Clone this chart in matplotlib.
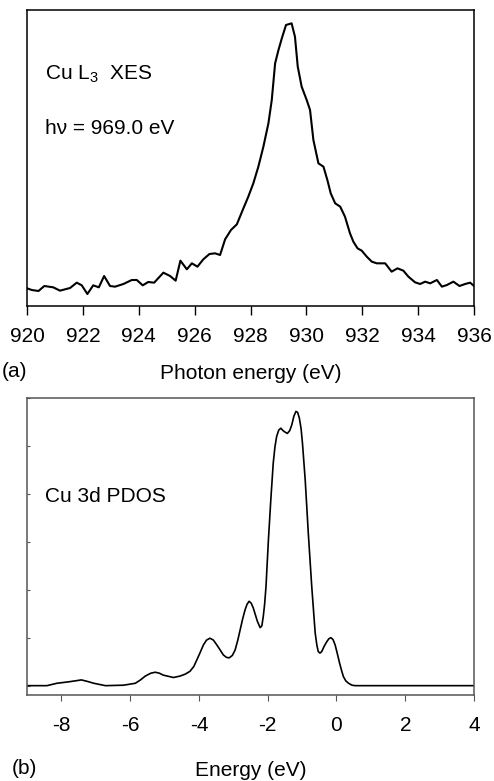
import numpy as np
import matplotlib
matplotlib.use("Agg")
import matplotlib.pyplot as plt

plt.rcParams['font.family'] = ['Liberation Sans', 'DejaVu Sans']
plt.rcParams['mathtext.fontset'] = 'custom'
plt.rcParams['mathtext.rm'] = 'Liberation Sans'
plt.rcParams['mathtext.it'] = 'Liberation Sans:italic'
plt.rcParams['axes.unicode_minus'] = False

# (a) Cu L3 XES, photon energy (eV) vs intensity (arb. units)
xes_energy = [920.00, 920.17, 920.41, 920.62, 920.94, 921.18, 921.54, 921.78, 921.96, 922.16,
              922.37, 922.57, 922.76, 922.97, 923.15, 923.45, 923.75, 923.93, 924.14, 924.34,
              924.55, 924.88, 925.12, 925.32, 925.49, 925.72, 925.90, 926.10, 926.31, 926.53,
              926.73, 926.91, 927.09, 927.30, 927.51, 927.72, 927.92, 928.10, 928.28, 928.46,
              928.64, 928.76, 928.88, 929.00, 929.12, 929.27, 929.47, 929.59, 929.69, 929.83,
              930.01, 930.13, 930.25, 930.43, 930.61, 930.75, 930.87, 931.03, 931.21, 931.38,
              931.56, 931.68, 931.83, 931.98, 932.16, 932.34, 932.52, 932.82, 933.05, 933.26,
              933.47, 933.65, 933.89, 934.07, 934.25, 934.43, 934.67, 934.85, 935.03, 935.26,
              935.48, 935.68, 935.86, 936.00]
xes_int = [53, 48, 45, 60, 56, 46, 54, 70, 62, 36,
           62, 56, 90, 60, 58, 66, 78, 78, 62, 72,
           70, 100, 90, 76, 136, 110, 128, 118, 140, 156,
           158, 153, 200, 228, 245, 288, 328, 368, 418, 478,
           548, 618, 728, 768, 803, 843, 848, 808, 718, 658,
           618, 588, 498, 428, 418, 378, 338, 308, 298, 268,
           218, 193, 173, 166, 148, 133, 128, 128, 103, 113,
           106, 88, 71, 66, 73, 68, 78, 58, 63, 73,
           60, 66, 70, 60]

# (b) Cu 3d PDOS, energy (eV) vs density of states
pdos_energy = [-9.00, -8.42, -8.13, -7.79, -7.60, -7.42, -7.25, -7.06, -6.72, -6.19,
               -5.85, -5.70, -5.56, -5.40, -5.27, -5.15, -5.04, -4.74, -4.55, -4.40,
               -4.26, -4.15, -4.06, -3.96, -3.87, -3.78, -3.68, -3.58, -3.48, -3.38,
               -3.29, -3.20, -3.12, -3.03, -2.95, -2.87, -2.80, -2.73, -2.66, -2.60,
               -2.54, -2.48, -2.42, -2.36, -2.30, -2.22, -2.17, -2.13, -2.09, -2.05,
               -1.98, -1.91, -1.84, -1.79, -1.74, -1.68, -1.62, -1.57, -1.52, -1.43,
               -1.36, -1.30, -1.24, -1.18, -1.13, -1.08, -1.03, -0.99, -0.91, -0.82,
               -0.72, -0.62, -0.57, -0.53, -0.48, -0.43, -0.36, -0.28, -0.22, -0.16,
               -0.10, -0.04, 0.02, 0.09, 0.15, 0.20, 0.27, 0.35, 0.45, 0.54, 4.00]
pdos = [0.00, 0.00, 0.05, 0.08, 0.10, 0.12, 0.09, 0.05, 0.00, 0.01,
        0.05, 0.12, 0.20, 0.26, 0.28, 0.26, 0.22, 0.17, 0.20, 0.24,
        0.30, 0.40, 0.54, 0.70, 0.85, 0.95, 0.99, 0.95, 0.85, 0.74,
        0.64, 0.59, 0.58, 0.63, 0.74, 0.95, 1.17, 1.39, 1.58, 1.70,
        1.76, 1.72, 1.62, 1.48, 1.34, 1.21, 1.25, 1.44, 1.70, 2.07,
        3.04, 3.88, 4.64, 4.98, 5.20, 5.33, 5.37, 5.33, 5.30, 5.26,
        5.32, 5.44, 5.62, 5.72, 5.70, 5.58, 5.36, 5.06, 4.29, 3.18,
        2.07, 1.10, 0.84, 0.71, 0.68, 0.71, 0.82, 0.92, 0.98, 1.00,
        0.96, 0.85, 0.68, 0.47, 0.31, 0.19, 0.10, 0.05, 0.01, 0.00, 0.00]

fig = plt.figure(figsize=(4.94, 7.81), dpi=100)

# top panel
ax1 = fig.add_axes([0.0547, 0.6082, 0.9049, 0.3790])
ax1.plot(xes_energy, xes_int, color="black", linewidth=1.5)
ax1.set_xlim(920, 936)
ax1.set_ylim(0, 888)
ax1.set_xticks(np.arange(920, 937, 2))
ax1.set_yticks([])
ax1.tick_params(axis="x", direction="out", length=6.5, width=1.0, pad=8.5, labelsize=15)
for s in ax1.spines.values():
    s.set_linewidth(1.1)
ax1.set_xlabel("Photon energy (eV)", fontsize=15, labelpad=13)
ax1.text(0.04, 0.764, "Cu L$_3$  XES", transform=ax1.transAxes, fontsize=15, va="baseline")
ax1.text(0.04, 0.580, "h\u03bd = 969.0 eV", transform=ax1.transAxes, fontsize=15, va="baseline")
fig.text(0.004, 0.5237, "(a)", fontsize=15, va="center")

# bottom panel
grey = "#555555"
ax2 = fig.add_axes([0.0547, 0.1101, 0.9049, 0.3803])
ax2.plot(pdos_energy, pdos, color="black", linewidth=1.2)
ax2.set_xlim(-9, 4)
ax2.set_ylim(-0.195, 6.0)
ax2.set_xticks(np.arange(-8, 5, 2))
ax2.set_yticks(np.arange(0, 7, 1))
ax2.tick_params(axis="x", direction="out", length=4, width=0.8, color=grey, pad=11, labelsize=15)
ax2.tick_params(axis="y", direction="in", length=2, width=0.8, color=grey, labelleft=False)
for s in ax2.spines.values():
    s.set_linewidth(1.1)
    s.set_color(grey)
ax2.set_xlabel("Energy (eV)", fontsize=15, labelpad=19)
ax2.text(0.04, 0.651, "Cu 3d PDOS", transform=ax2.transAxes, fontsize=15, va="baseline")
fig.text(0.024, 0.0166, "(b)", fontsize=15, va="center")

plt.savefig("out.png", dpi=100)
